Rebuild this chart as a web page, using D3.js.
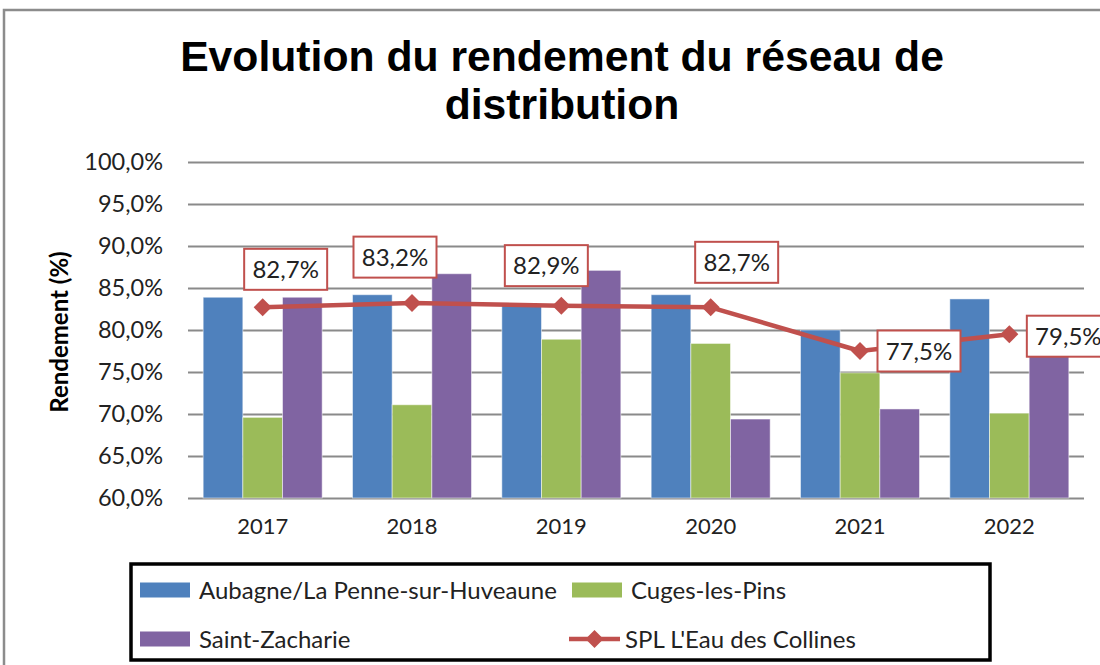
<!DOCTYPE html>
<html>
<head>
<meta charset="utf-8">
<script src="https://cdn.jsdelivr.net/npm/d3@7"></script>
<style>
  html, body { margin: 0; padding: 0; background: #fff; }
  svg { display: block; }
</style>
</head>
<body>
<svg id="chart" width="1100" height="665"></svg>
<script>
// ---- Data ----
const years = ["2017", "2018", "2019", "2020", "2021", "2022"];
const aubagne = [83.9, 84.2, 83.0, 84.2, 80.0, 83.7];
const cuges = [69.6, 71.1, 78.9, 78.4, 74.9, 70.1];
const saintZacharie = [83.9, 86.7, 87.1, 69.4, 70.6, 78.0];
const spl = [82.7, 83.2, 82.9, 82.7, 77.5, 79.5];
const yTicks = [60, 65, 70, 75, 80, 85, 90, 95, 100];
const seriesNames = ["Aubagne/La Penne-sur-Huveaune", "Cuges-les-Pins", "Saint-Zacharie", "SPL L'Eau des Collines"];
const titleLines = ["Evolution du rendement du réseau de", "distribution"];
const yTitle = "Rendement (%)";

// ---- Layout / style ----
const colors = ["#4F81BD", "#9BBB59", "#8064A2", "#C0504D"];
const labelOffsets = [[23, -38], [-17, -46], [-15, -40], [26, -45], [59, 0], [59, 2]];
const font = "Lato, 'Open Sans', sans-serif";
const fmt = v => v.toFixed(1).replace(".", ",") + "%";

const svg = d3.select("#chart");
svg.append("rect").attr("x", 0).attr("y", 0).attr("width", 1100).attr("height", 665).attr("fill", "#fff");
svg.append("rect").attr("x", 4).attr("y", 10).attr("width", 1120).attr("height", 720)
  .attr("fill", "none").attr("stroke", "#8c8c8c").attr("stroke-width", 2.5);

// Title
svg.append("g").selectAll("text").data(titleLines).join("text")
  .attr("x", 562).attr("y", (d, i) => 71 + i * 48)
  .attr("text-anchor", "middle")
  .attr("font-family", "'Liberation Sans', Arial, sans-serif")
  .attr("font-weight", "bold").attr("font-size", 42.7).attr("fill", "#000")
  .text(d => d);

const plot = { left: 188, right: 1084, top: 162, bottom: 498 };
const x = d3.scaleBand().domain(years).range([plot.left, plot.right]).paddingInner(0).paddingOuter(0);
const y = d3.scaleLinear().domain([60, 100]).range([plot.bottom, plot.top]);
const groupW = 119;
const xs = d3.scaleBand().domain([0, 1, 2]).range([-groupW / 2, groupW / 2]).padding(0);

// Gridlines
const yAxis = d3.axisLeft(y).tickValues(yTicks).tickSize(-(plot.right - plot.left)).tickFormat(d => fmt(d)).tickPadding(25);
const gy = svg.append("g").attr("transform", `translate(${plot.left},0)`).call(yAxis);
gy.select(".domain").remove();
gy.selectAll(".tick line").attr("stroke", "#8a8a8a").attr("stroke-width", 2);
gy.selectAll(".tick text").attr("font-family", font).attr("font-size", 23.5).attr("fill", "#222");

// Bars
const barSeries = [aubagne, cuges, saintZacharie];
barSeries.forEach((vals, si) => {
  svg.append("g").selectAll("rect").data(vals).join("rect")
    .attr("x", (d, i) => x(years[i]) + x.bandwidth() / 2 + xs(si))
    .attr("width", xs.bandwidth())
    .attr("y", d => y(d))
    .attr("height", d => y(60) - y(d))
    .attr("fill", colors[si])
    .attr("stroke", "#ffffff").attr("stroke-opacity", 0.5).attr("stroke-width", 1);
});

// X axis labels
const xAxis = d3.axisBottom(x).tickSize(0).tickPadding(20);
const gx = svg.append("g").attr("transform", `translate(0,${plot.bottom})`).call(xAxis);
gx.select(".domain").remove();
gx.selectAll(".tick text").attr("font-family", font).attr("font-size", 22).attr("fill", "#222");

// Line
const cx = i => x(years[i]) + x.bandwidth() / 2;
const line = d3.line().x((d, i) => cx(i)).y(d => y(d));
svg.append("path").datum(spl).attr("d", line)
  .attr("fill", "none").attr("stroke", colors[3]).attr("stroke-width", 4.5).attr("stroke-linejoin", "round");
const diamond = "M0,-9L9,0L0,9L-9,0Z";
svg.append("g").selectAll("path").data(spl).join("path")
  .attr("d", diamond)
  .attr("transform", (d, i) => `translate(${cx(i)},${y(d)})`)
  .attr("fill", colors[3]);

// Data labels
const lab = svg.append("g").selectAll("g").data(spl).join("g")
  .attr("transform", (d, i) => `translate(${cx(i) + labelOffsets[i][0]},${y(d) + labelOffsets[i][1]})`);
lab.append("rect").attr("x", -41.5).attr("y", -20.5).attr("width", 83).attr("height", 41)
  .attr("fill", "#fff").attr("stroke", colors[3]).attr("stroke-width", 2);
lab.append("text").attr("text-anchor", "middle").attr("dy", "0.36em")
  .attr("font-family", font).attr("font-size", 24).attr("fill", "#222")
  .text(d => fmt(d));

// Y title
svg.append("text")
  .attr("transform", "translate(68,332) rotate(-90)")
  .attr("text-anchor", "middle")
  .attr("font-family", font).attr("font-weight", "bold").attr("font-size", 24).attr("fill", "#000")
  .text(yTitle);

// Legend
const lg = svg.append("g");
lg.append("rect").attr("x", 131).attr("y", 564).attr("width", 859).attr("height", 96)
  .attr("fill", "#fff").attr("stroke", "#000").attr("stroke-width", 3.5);
const legendPos = [[140, 590], [572, 590], [140, 639], [569, 639]];
seriesNames.forEach((name, i) => {
  const [lx, ly] = legendPos[i];
  if (i < 3) {
    lg.append("rect").attr("x", lx).attr("y", ly - 7.5).attr("width", 50).attr("height", 15).attr("fill", colors[i]);
  } else {
    lg.append("line").attr("x1", lx).attr("x2", lx + 51).attr("y1", ly).attr("y2", ly)
      .attr("stroke", colors[3]).attr("stroke-width", 4.5);
    lg.append("path").attr("d", diamond).attr("transform", `translate(${lx + 25.5},${ly})`).attr("fill", colors[3]);
  }
  lg.append("text").attr("x", i < 3 ? lx + 59 : lx + 56).attr("y", ly).attr("dy", "0.36em")
    .attr("font-family", font).attr("font-size", 24).attr("fill", "#222").text(name);
});
</script>
</body>
</html>
